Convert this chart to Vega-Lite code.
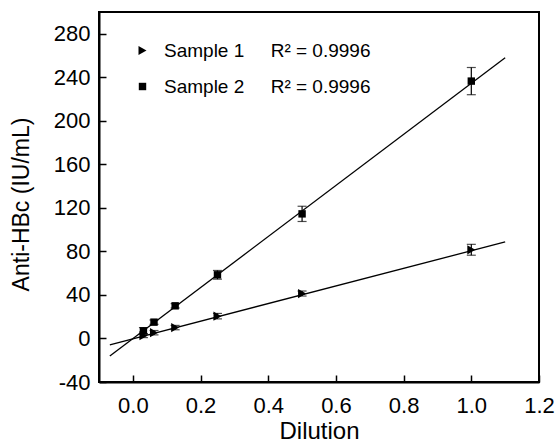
{
  "$schema": "https://vega.github.io/schema/vega-lite/v6.json",
  "width": 440,
  "height": 370,
  "autosize": {"type": "none"},
  "padding": {"left": 99, "top": 12, "right": 17, "bottom": 63},
  "background": "white",
  "config": {
    "view": {"stroke": "black", "strokeWidth": 2},
    "font": "Liberation Sans",
    "axis": {
      "grid": false,
      "domainColor": "black",
      "domainWidth": 2,
      "tickColor": "black",
      "tickWidth": 1.5,
      "labelColor": "black",
      "titleColor": "black",
      "labelFont": "Liberation Sans",
      "titleFont": "Liberation Sans",
      "labelFontSize": 22,
      "titleFontSize": 23,
      "titleFontWeight": "normal"
    }
  },
  "datasets": {
    "points": [
      {"series": "Sample 1", "x": 0.03125, "y": 2.6, "lo": 0.8, "hi": 4.4},
      {"series": "Sample 1", "x": 0.0625, "y": 5.3, "lo": 3.3, "hi": 7.3},
      {"series": "Sample 1", "x": 0.125, "y": 10, "lo": 8, "hi": 12},
      {"series": "Sample 1", "x": 0.25, "y": 20.5, "lo": 18, "hi": 23},
      {"series": "Sample 1", "x": 0.5, "y": 41.3, "lo": 39, "hi": 43.6},
      {"series": "Sample 1", "x": 1.0, "y": 81.5, "lo": 76.5, "hi": 86.5},
      {"series": "Sample 2", "x": 0.03125, "y": 7, "lo": 4, "hi": 10},
      {"series": "Sample 2", "x": 0.0625, "y": 15, "lo": 13, "hi": 17},
      {"series": "Sample 2", "x": 0.125, "y": 30, "lo": 28, "hi": 32},
      {"series": "Sample 2", "x": 0.25, "y": 58.5, "lo": 54.5, "hi": 62.5},
      {"series": "Sample 2", "x": 0.5, "y": 114.5, "lo": 107.5, "hi": 121.5},
      {"series": "Sample 2", "x": 1.0, "y": 236.5, "lo": 224, "hi": 249}
    ],
    "fits": [
      {"series": "Sample 1", "x": -0.068, "y": -5.8},
      {"series": "Sample 1", "x": 1.1, "y": 88.7},
      {"series": "Sample 2", "x": -0.068, "y": -16.2},
      {"series": "Sample 2", "x": 1.1, "y": 258}
    ]
  },
  "layer": [
    {
      "data": {"name": "fits"},
      "mark": {"type": "line", "color": "black", "strokeWidth": 1.3},
      "encoding": {
        "x": {"field": "x", "type": "quantitative", "scale": {"domain": [-0.1, 1.2], "nice": false, "zero": false},
          "axis": {
            "title": "Dilution",
            "titleFontSize": 24,
            "values": [0, 0.1, 0.2, 0.3, 0.4, 0.5, 0.6, 0.7, 0.8, 0.9, 1.0, 1.1, 1.2],
            "labelExpr": "round(datum.value*10)%2===0 ? format(datum.value, '.1f') : ''",
            "tickSize": {"condition": {"test": "round(datum.value*10)%2===0", "value": -7}, "value": -4},
            "labelPadding": 20,
            "titlePadding": 3,
            "labelFlush": false
          }
        },
        "y": {"field": "y", "type": "quantitative", "scale": {"domain": [-40, 300], "nice": false, "zero": false},
          "axis": {
            "title": "Anti-HBc (IU/mL)",
            "values": [-40, 0, 40, 80, 120, 160, 200, 240, 280],
            "labelExpr": "'' + datum.value",
            "tickSize": -7,
            "labelPadding": 16,
            "titlePadding": 20,
            "titleY": 192,
            "labelFlush": false
          }
        },
        "detail": {"field": "series"}
      }
    },
    {
      "data": {"name": "points"},
      "mark": {"type": "rule", "color": "black", "strokeWidth": 1.2},
      "encoding": {
        "x": {"field": "x", "type": "quantitative"},
        "y": {"field": "lo", "type": "quantitative"},
        "y2": {"field": "hi"}
      }
    },
    {
      "data": {"name": "points"},
      "mark": {"type": "tick", "orient": "horizontal", "color": "black", "size": 9, "thickness": 1.2},
      "encoding": {
        "x": {"field": "x", "type": "quantitative"},
        "y": {"field": "lo", "type": "quantitative"}
      }
    },
    {
      "data": {"name": "points"},
      "mark": {"type": "tick", "orient": "horizontal", "color": "black", "size": 9, "thickness": 1.2},
      "encoding": {
        "x": {"field": "x", "type": "quantitative"},
        "y": {"field": "hi", "type": "quantitative"}
      }
    },
    {
      "data": {"name": "points"},
      "mark": {"type": "point", "filled": true, "color": "black", "opacity": 1},
      "encoding": {
        "x": {"field": "x", "type": "quantitative"},
        "y": {"field": "y", "type": "quantitative"},
        "size": {
          "field": "series", "type": "nominal",
          "scale": {"domain": ["Sample 1", "Sample 2"], "range": [85, 55]}
        },
        "shape": {
          "field": "series", "type": "nominal",
          "scale": {"domain": ["Sample 1", "Sample 2"], "range": ["triangle-right", "square"]},
          "legend": {
            "title": null,
            "orient": "none",
            "legendX": 34,
            "legendY": 29,
            "padding": 0,
            "symbolFillColor": "black",
            "symbolStrokeColor": "black",
            "symbolStrokeWidth": 0,
            "labelFontSize": 19,
            "labelFont": "Liberation Sans",
            "labelColor": "black",
            "labelOffset": 12,
            "rowPadding": 16,
            "labelLimit": 400,
            "labelExpr": "datum.label + '\u00a0\u00a0\u00a0\u00a0\u00a0R\u00b2 = 0.9996'"
          }
        }
      }
    }
  ]
}
